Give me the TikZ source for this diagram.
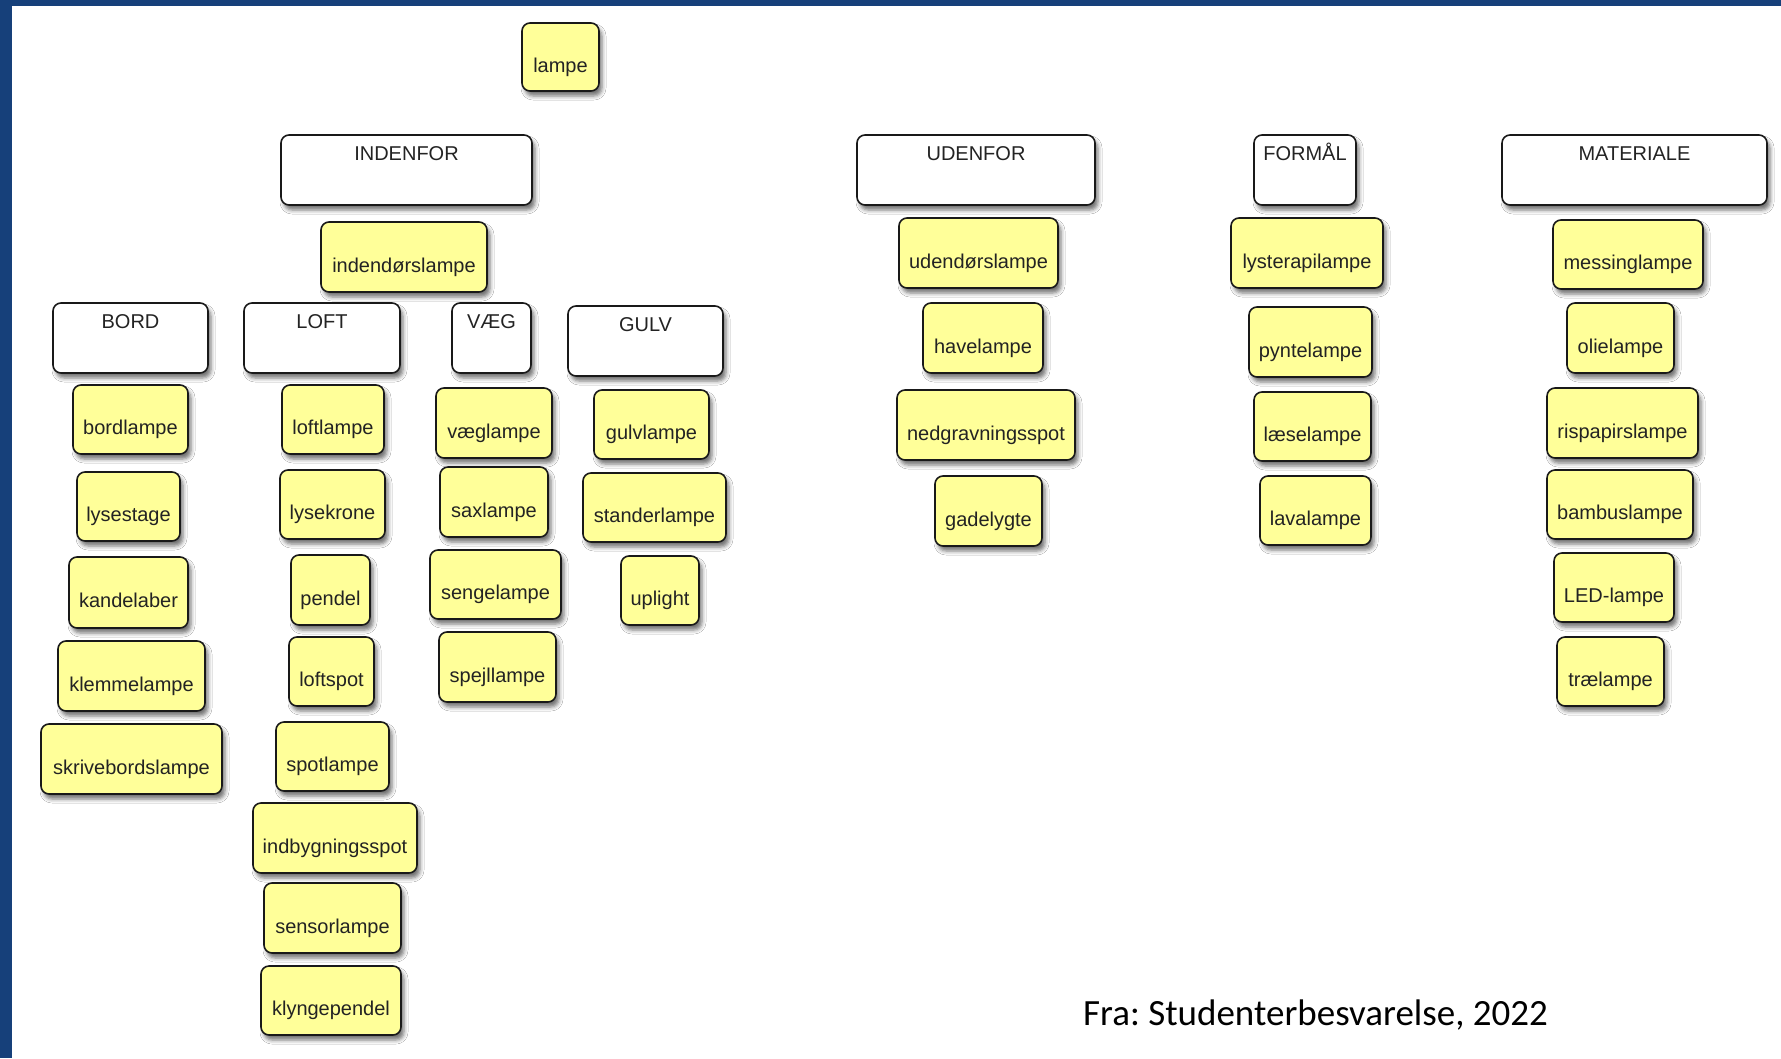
\documentclass[tikz,border=0pt]{standalone}
\usepackage{fontspec}
\setmainfont{Liberation Sans}
\newfontfamily\capfont{Carlito}
\usetikzlibrary{shadows.blur}
\frenchspacing
\definecolor{frameblue}{RGB}{22,64,122}
\definecolor{noteyellow}{RGB}{255,255,153}
\definecolor{inkgray}{RGB}{35,35,35}
\tikzset{
  cardbase/.style={rectangle, rounded corners=8pt, draw=black!90, line width=1.6pt,
    inner sep=0pt, text=inkgray, font=\fontsize{20pt}{24pt}\selectfont,
    blur shadow={shadow xshift=3pt, shadow yshift=-5pt, shadow blur radius=4pt, shadow opacity=55}},
  ycard/.style={cardbase, fill=noteyellow},
  hcard/.style={cardbase, fill=white},
}
% #1 name, #2 x1, #3 y1, #4 x2, #5 y2, #6 text
\newcommand\mkcard[6]{%
  \pgfmathsetmacro\cx{(#2+#4)/2}\pgfmathsetmacro\cy{(#3+#5)/2}%
  \pgfmathsetmacro\cw{#4-#2}\pgfmathsetmacro\ch{#5-#3}%
  \node[ycard, minimum width=\cw pt, minimum height=\ch pt] (#1) at (\cx,\cy)
    {\raisebox{-15pt}[0pt][0pt]{#6}};}
\newcommand\mkhead[6]{%
  \pgfmathsetmacro\cx{(#2+#4)/2}\pgfmathsetmacro\cy{(#3+#5)/2}%
  \pgfmathsetmacro\cw{#4-#2}\pgfmathsetmacro\ch{#5-#3}%
  \node[hcard, minimum width=\cw pt, minimum height=\ch pt] (#1) at (\cx,\cy)
    {\raisebox{10pt}[0pt][0pt]{#6}};}
\begin{document}
\begin{tikzpicture}[x=1pt,y=-1pt]
\useasboundingbox (0,0) rectangle (1781,1058);
\fill[white] (0,0) rectangle (1781,1058);
\fill[frameblue] (0,0) rectangle (12,1058);
\fill[frameblue] (0,0) rectangle (1781,6);
% headers
\mkhead{indenfor}{281}{135}{532}{205}{INDENFOR}
\mkhead{bord}{53}{303}{208}{373}{BORD}
\mkhead{loft}{244}{303}{400}{373}{LOFT}
\mkhead{vaeg}{452}{303}{531}{373}{VÆG}
\mkhead{gulv}{568}{306}{723}{376}{GULV}
\mkhead{udenfor}{857}{135}{1095}{205}{UDENFOR}
\mkhead{formaal}{1254}{135}{1356}{205}{FORMÅL}
\mkhead{materiale}{1502}{135}{1767}{205}{MATERIALE}
% cards
\mkcard{lampe}{522}{23}{599}{91}{lampe}
\mkcard{indendoer}{321}{222}{487}{292}{indendørslampe}
\mkcard{udendoer}{899}{218}{1058}{288}{udendørslampe}
\mkcard{have}{923}{303}{1043}{373}{havelampe}
\mkcard{nedgrav}{897}{390}{1075}{460}{nedgravningsspot}
\mkcard{gade}{935}{476}{1042}{546}{gadelygte}
\mkcard{lysterapi}{1231}{218}{1383}{288}{lysterapilampe}
\mkcard{pynte}{1249}{307}{1372}{377}{pyntelampe}
\mkcard{laese}{1254}{392}{1371}{461}{læselampe}
\mkcard{lava}{1260}{476}{1371}{545}{lavalampe}
\mkcard{messing}{1553}{220}{1703}{289}{messinglampe}
\mkcard{olie}{1567}{303}{1674}{373}{olielampe}
\mkcard{rispapir}{1547}{388}{1698}{458}{rispapirslampe}
\mkcard{bambus}{1547}{470}{1693}{539}{bambuslampe}
\mkcard{led}{1554}{553}{1674}{622}{LED-lampe}
\mkcard{trae}{1557}{637}{1664}{706}{trælampe}
\mkcard{bordl}{73}{385}{188}{454}{bordlampe}
\mkcard{lysestage}{77}{472}{180}{541}{lysestage}
\mkcard{kandelaber}{69}{557}{188}{628}{kandelaber}
\mkcard{klemme}{58}{641}{205}{711}{klemmelampe}
\mkcard{skrivebord}{41}{724}{222}{794}{skrivebordslampe}
\mkcard{loftl}{282}{385}{384}{454}{loftlampe}
\mkcard{lysekrone}{280}{470}{385}{539}{lysekrone}
\mkcard{pendel}{291}{555}{370}{625}{pendel}
\mkcard{loftspot}{289}{637}{374}{706}{loftspot}
\mkcard{spot}{276}{722}{389}{791}{spotlampe}
\mkcard{indbyg}{253}{803}{417}{873}{indbygningsspot}
\mkcard{sensor}{264}{883}{401}{953}{sensorlampe}
\mkcard{klynge}{261}{966}{401}{1035}{klyngependel}
\mkcard{vaegl}{436}{388}{552}{458}{væglampe}
\mkcard{sax}{440}{467}{548}{537}{saxlampe}
\mkcard{senge}{430}{550}{561}{619}{sengelampe}
\mkcard{spejl}{439}{632}{556}{702}{spejllampe}
\mkcard{gulvl}{594}{390}{709}{459}{gulvlampe}
\mkcard{stander}{583}{473}{726}{542}{standerlampe}
\mkcard{uplight}{621}{556}{699}{625}{uplight}
% source
\node[anchor=base west, inner sep=0pt, font=\capfont\fontsize{37pt}{44pt}\selectfont, text=black] (source) at (1083,1025) {Fra: Studenterbesvarelse, 2022};
\end{tikzpicture}
\end{document}
